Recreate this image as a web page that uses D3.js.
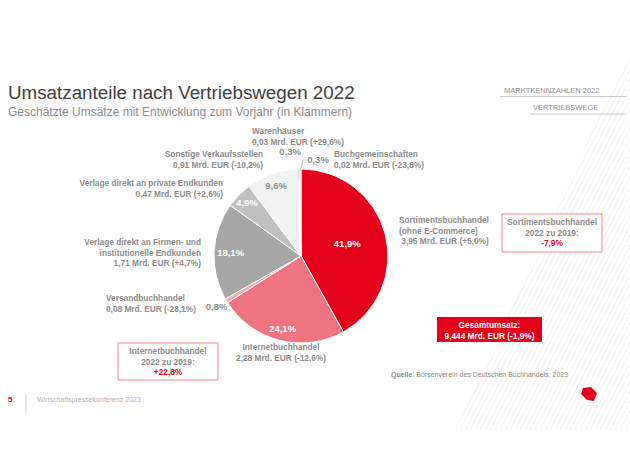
<!DOCTYPE html>
<html>
<head>
<meta charset="utf-8">
<script src="https://cdn.jsdelivr.net/npm/d3@7"></script>
<style>
  body { margin: 0; background: #fff; }
  svg { display: block; font-family: "Liberation Sans", Arial, sans-serif; }
</style>
</head>
<body>
<script>
// Umsatzanteile nach Vertriebswegen 2022
var categories = ["Sortimentsbuchhandel", "Internetbuchhandel", "Versandbuchhandel",
  "Verlage direkt an Firmen- und institutionelle Endkunden", "Verlage direkt an private Endkunden",
  "Sonstige Verkaufsstellen", "Warenhäuser", "Buchgemeinschaften"];
var nameLines = [["Sortimentsbuchhandel", "(ohne E-Commerce)"], ["Internetbuchhandel"], ["Versandbuchhandel"],
  ["Verlage direkt an Firmen- und", "institutionelle Endkunden"], ["Verlage direkt an private Endkunden"],
  ["Sonstige Verkaufsstellen"], ["Warenhäuser"], ["Buchgemeinschaften"]];
var shares = [41.9, 24.1, 0.8, 18.1, 4.9, 9.6, 0.3, 0.3];
var umsatz = [3.95, 2.28, 0.08, 1.71, 0.47, 0.91, 0.03, 0.02];
var veraenderung = [5.0, -12.6, -28.1, 4.7, 2.6, -10.2, 29.6, -23.8];
var colors = ["#e2001a", "#ef7482", "#f5a9b1", "#a6a6a6", "#c0c0c0", "#f2f2f2", "#b0b0b0", "#d9d9d9"];

var gesamt = 9.444, gesamtVeraenderung = -1.9;
var vergleich2019 = [["Sortimentsbuchhandel", -7.9], ["Internetbuchhandel", 22.8]];

var W = 630, H = 468;
var de = d3.formatLocale({decimal: ",", thousands: ".", grouping: [3], currency: ["", " EUR"], minus: "-"});
var f1 = de.format(".1f"), f2 = de.format(".2f"), f3 = de.format(".3f"), fs1 = de.format("+.1f");

var svg = d3.select("body").append("svg").attr("width", W).attr("height", H);

// hatched background on the right
var defs = svg.append("defs");
defs.append("clipPath").attr("id", "hclip")
  .append("polygon").attr("points", "625,60 630,60 630,430 455,430");
var hatch = svg.append("g").attr("clip-path", "url(#hclip)");
for (var i = -60; i < 80; i++) {
  var x0 = 400 + i * 5;
  hatch.append("line")
    .attr("x1", x0).attr("y1", 440).attr("x2", x0 + 200).attr("y2", 50)
    .attr("stroke", "#ebebeb").attr("stroke-width", 0.7);
}

// title
svg.append("text").attr("x", 8).attr("y", 99).attr("font-size", 18.8).attr("fill", "#404040")
  .text("Umsatzanteile nach Vertriebswegen 2022");
svg.append("text").attr("x", 8).attr("y", 116).attr("font-size", 12).attr("fill", "#8c8c8c")
  .text("Geschätzte Umsätze mit Entwicklung zum Vorjahr (in Klammern)");

// top-right navigation
svg.append("text").attr("x", 504).attr("y", 93).attr("font-size", 7.5).attr("fill", "#8c8c8c")
  .text("MARKTKENNZAHLEN 2022");
svg.append("line").attr("x1", 500).attr("x2", 626).attr("y1", 96.5).attr("y2", 96.5)
  .attr("stroke", "#bdbdbd").attr("stroke-width", 0.8);
svg.append("text").attr("x", 533).attr("y", 110).attr("font-size", 7.5).attr("fill", "#8c8c8c")
  .text("VERTRIEBSWEGE");
svg.append("line").attr("x1", 530).attr("x2", 626).attr("y1", 114).attr("y2", 114)
  .attr("stroke", "#bdbdbd").attr("stroke-width", 0.8);

// pie
var cx = 301, cy = 256, r = 87;
var pie = d3.pie().sort(null).value(function(d) { return d; });
var arcs = pie(shares);
var arc = d3.arc().innerRadius(0).outerRadius(r);
var g = svg.append("g").attr("transform", "translate(" + cx + "," + cy + ")");

g.selectAll("path.slice")
  .data(arcs)
  .enter()
  .append("path")
    .attr("class", "slice")
    .attr("d", arc)
    .attr("fill", function(d, i) { return colors[i]; })
    .attr("stroke", "#fff")
    .attr("stroke-width", 1);

// percent labels
var labelR = [0.55, 0.86, 1.13, 0.81, 0.87, 0.86, 1.0, 1.0];
var labelFill = ["#fff", "#fff", "#8c8c8c", "#fff", "#fff", "#8c8c8c", "#8c8c8c", "#8c8c8c"];
g.selectAll("text.pct")
  .data(arcs.slice(0, 6))
  .enter()
  .append("text")
    .attr("class", "pct")
    .attr("transform", function(d, i) {
      var a = d3.arc().innerRadius(r * labelR[i]).outerRadius(r * labelR[i]);
      return "translate(" + a.centroid(d) + ")";
    })
    .attr("text-anchor", "middle")
    .attr("dy", "0.35em")
    .attr("font-size", 9.5)
    .attr("font-weight", "bold")
    .attr("fill", function(d, i) { return labelFill[i]; })
    .text(function(d) { return f1(d.data) + "%"; });

// the two 0,3% slivers
var sliverArc = d3.arc().innerRadius(r + 13).outerRadius(r + 13);
var wa = arcs[6], bg = arcs[7];
var wc = sliverArc.centroid(wa);
g.append("text").attr("x", wc[0] - 8).attr("y", wc[1] - 1)
  .attr("text-anchor", "middle").attr("font-size", 9.5).attr("font-weight", "bold").attr("fill", "#8c8c8c")
  .text(f1(wa.data) + "%");
var bIn = d3.arc().innerRadius(r - 2).outerRadius(r - 2).centroid(bg);
g.append("polyline")
  .attr("points", [bIn, [bIn[0] + 3, bIn[1] - 11], [bIn[0] + 5, bIn[1] - 11]].join(" "))
  .attr("fill", "none").attr("stroke", "#b0b0b0").attr("stroke-width", 0.8);
g.append("text").attr("x", bIn[0] + 7).attr("y", bIn[1] - 8)
  .attr("font-size", 9.5).attr("font-weight", "bold").attr("fill", "#8c8c8c")
  .text(f1(bg.data) + "%");

// category labels
var labelPos = [
  {x: 399, y: 223, a: "start"},
  {x: 281, y: 350, a: "middle"},
  {x: 106, y: 301, a: "start"},
  {x: 201, y: 245, a: "end"},
  {x: 223, y: 186, a: "end"},
  {x: 263, y: 157, a: "end"},
  {x: 252, y: 134, a: "start"},
  {x: 334, y: 157, a: "start"}
];
categories.forEach(function(c, i) {
  var p = labelPos[i];
  var lines = nameLines[i].concat([(i === 0 ? " " : "") + f2(umsatz[i]) + " Mrd. EUR (" + fs1(veraenderung[i]) + "%)"]);
  var t = svg.append("text").attr("x", p.x).attr("y", p.y).attr("text-anchor", p.a)
    .attr("font-size", 8.3).attr("font-weight", "bold").attr("fill", "#8c8c8c");
  lines.forEach(function(l, j) {
    t.append("tspan").attr("x", p.x).attr("dy", j === 0 ? 0 : 10.7).attr("xml:space", "preserve").text(l);
  });
});

// 2022 vs 2019 boxes
var boxes = [{x: 502, y: 214, w: 100, h: 38}, {x: 118, y: 343, w: 100, h: 37}];
vergleich2019.forEach(function(v, i) {
  var b = boxes[i];
  svg.append("rect").attr("x", b.x).attr("y", b.y).attr("width", b.w).attr("height", b.h)
    .attr("fill", "#fff").attr("stroke", "#f08591").attr("stroke-width", 1);
  var mx = b.x + b.w / 2;
  var t = svg.append("text").attr("text-anchor", "middle").attr("font-size", 8.3)
    .attr("font-weight", "bold").attr("fill", "#8c8c8c");
  t.append("tspan").attr("x", mx).attr("y", b.y + 11).text(v[0]);
  t.append("tspan").attr("x", mx).attr("y", b.y + 21.5).text("2022 zu 2019:");
  t.append("tspan").attr("x", mx).attr("y", b.y + 32).attr("fill", "#e2001a")
    .text(fs1(v[1]) + "%");
});

// total box
svg.append("rect").attr("x", 437).attr("y", 317).attr("width", 105).attr("height", 25).attr("fill", "#e2001a");
var tt = svg.append("text").attr("text-anchor", "middle").attr("font-size", 8.3)
  .attr("font-weight", "bold").attr("fill", "#fff");
tt.append("tspan").attr("x", 489.5).attr("y", 328).text("Gesamtumsatz:");
tt.append("tspan").attr("x", 489.5).attr("y", 338.5)
  .text(f3(gesamt) + " Mrd. EUR (" + f1(gesamtVeraenderung) + "%)");

// source
var src = svg.append("text").attr("x", 391).attr("y", 377).attr("font-size", 7).attr("fill", "#8c8c8c");
src.append("tspan").attr("font-weight", "bold").text("Quelle");
src.append("tspan").text(": Börsenverein des Deutschen Buchhandels, 2023");

// footer
svg.append("text").attr("x", 8).attr("y", 402).attr("font-size", 7.5).attr("font-weight", "bold")
  .attr("fill", "#e2001a").text("5");
svg.append("line").attr("x1", 26).attr("x2", 26).attr("y1", 394).attr("y2", 415)
  .attr("stroke", "#d0d0d0").attr("stroke-width", 1);
svg.append("text").attr("x", 37).attr("y", 402).attr("font-size", 7).attr("fill", "#b3b3b3")
  .text("Wirtschaftspressekonferenz 2023");

// logo
svg.append("polygon").attr("points", "583,388 591,387 597,393 594,401 587,400 581,394").attr("fill", "#e2001a");
</script>
</body>
</html>
